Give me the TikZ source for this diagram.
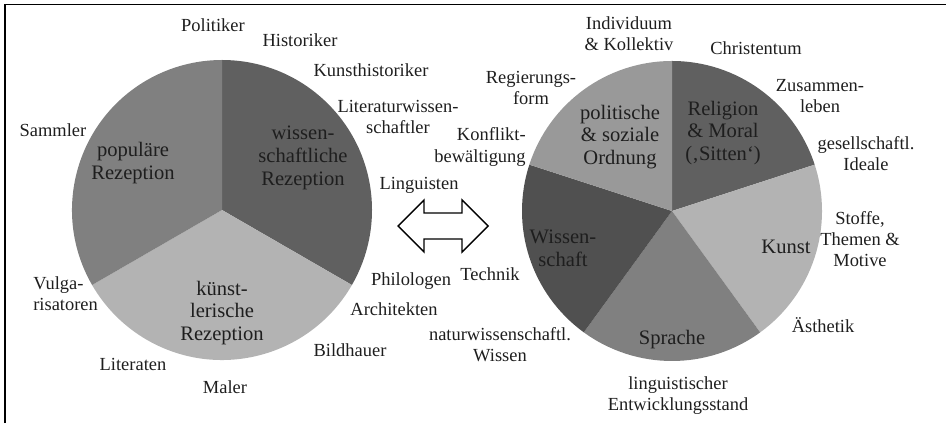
\documentclass[tikz,border=0pt]{standalone}
\usepackage{fontspec}
\setmainfont{Liberation Serif}
\usepackage{tikz}
\definecolor{TortenDunkel}{RGB}{96, 96, 96}
\definecolor{TortenTief}{RGB}{80, 80, 80}
\definecolor{TortenMittel}{RGB}{128, 128, 128}
\definecolor{TortenSilber}{RGB}{153, 153, 153}
\definecolor{TortenHell}{RGB}{179, 179, 179}
\definecolor{TextGrau}{RGB}{30, 30, 30}

\begin{document}
\begin{tikzpicture}[
		lbl/.style={color=TextGrau, inner sep=0pt, align=center, font=\fontsize{10.5}{12}\selectfont},
		inlbl/.style={color=TextGrau, inner sep=0pt, align=center, font=\fontsize{11.7}{13}\selectfont}]
			\useasboundingbox (0,0) rectangle (18.92,8.46);
			\draw[line width=1.1pt] (0.1,0) -- (0.1,8.37) -- (18.92,8.37);
			% Rezeption
			\fill[TortenDunkel] (4.44,4.26) -- ++(90:3) arc[start angle=90, end angle=-30, radius=3] -- cycle;
			\fill[TortenHell] (4.44,4.26) -- ++(-30:3) arc[start angle=-30, end angle=-150, radius=3] -- cycle;
			\fill[TortenMittel] (4.44,4.26) -- ++(210:3) arc[start angle=210, end angle=90, radius=3] -- cycle;
			\draw (2.66,5.20) node[inlbl] (populaer) {populäre\\Rezeption};
			\draw (6.06,5.30) node[inlbl] (wissrez) {wissen-\\schaftliche\\Rezeption};
			\draw (4.44,2.20) node[inlbl] (kuenstrez) {künst-\\lerische\\Rezeption};
			\draw (4.26,7.96) node[lbl] (politiker) {Politiker};
			\draw (6.00,7.66) node[lbl] (historiker) {Historiker};
			\draw (7.42,7.06) node[lbl] (kunsthist) {Kunsthistoriker};
			\draw (7.96,6.12) node[lbl] (litwiss) {Literaturwissen-\\schaftler};
			\draw (1.06,5.86) node[lbl] (sammler) {Sammler};
			\draw (8.38,4.76) node[lbl] (linguisten) {Linguisten};
			\draw (8.22,2.84) node[lbl] (philologen) {Philologen};
			\draw (7.88,2.28) node[lbl] (architekten) {Architekten};
			\draw (7.00,1.46) node[lbl] (bildhauer) {Bildhauer};
			\draw (4.50,0.72) node[lbl] (maler) {Maler};
			\draw (2.66,1.18) node[lbl] (literaten) {Literaten};
			\draw (0.66,2.58) node[lbl, anchor=west, align=left] (vulga) {Vulga-\\risatoren};
			% Pfeil
			\draw[line width=0.8pt, line join=miter] (7.96,3.94) -- (8.48,4.46) -- (8.48,4.20) -- (9.24,4.20) -- (9.24,4.46) -- (9.76,3.94)
				-- (9.24,3.42) -- (9.24,3.68) -- (8.48,3.68) -- (8.48,3.42) -- cycle;
			% Themen
			\fill[TortenDunkel] (13.44,4.24) -- ++(90:3) arc[start angle=90, end angle=18, radius=3] -- cycle;
			\fill[TortenHell] (13.44,4.24) -- ++(18:3) arc[start angle=18, end angle=-54, radius=3] -- cycle;
			\fill[TortenMittel] (13.44,4.24) -- ++(-54:3) arc[start angle=-54, end angle=-126, radius=3] -- cycle;
			\fill[TortenTief] (13.44,4.24) -- ++(234:3) arc[start angle=234, end angle=162, radius=3] -- cycle;
			\fill[TortenSilber] (13.44,4.24) -- ++(162:3) arc[start angle=162, end angle=90, radius=3] -- cycle;
			\draw (12.40,5.72) node[inlbl] (ordnung) {politische\\\& soziale\\Ordnung};
			\draw (14.46,5.80) node[inlbl] (religion) {Religion\\\& Moral\\(‚Sitten‘)};
			\draw (15.72,3.52) node[inlbl] (kunst) {Kunst};
			\draw (13.44,1.66) node[inlbl] (sprache) {Sprache};
			\draw (11.26,3.50) node[inlbl] (wissenschaft) {Wissen-\\schaft};
			\draw (12.58,7.78) node[lbl] (individuum) {Individuum\\\& Kollektiv};
			\draw (15.12,7.50) node[lbl] (christentum) {Christentum};
			\draw (16.40,6.54) node[lbl] (zusammen) {Zusammen-\\leben};
			\draw (17.32,5.38) node[lbl] (ideale) {gesellschaftl.\\Ideale};
			\draw (17.20,3.68) node[lbl] (stoffe) {Stoffe,\\Themen \&\\Motive};
			\draw (16.46,1.96) node[lbl] (aesthetik) {Ästhetik};
			\draw (13.56,0.54) node[lbl] (entwicklung) {linguistischer\\Entwicklungsstand};
			\draw (10.00,1.56) node[lbl] (naturwiss) {naturwissenschaftl.\\Wissen};
			\draw (9.80,2.98) node[lbl] (technik) {Technik};
			\draw (10.52,5.52) node[lbl, anchor=east, align=right] (konflikt) {Konflikt-\\bewältigung};
			\draw (10.62,6.70) node[lbl] (regierung) {Regierungs-\\form};
		\end{tikzpicture}
\end{document}
